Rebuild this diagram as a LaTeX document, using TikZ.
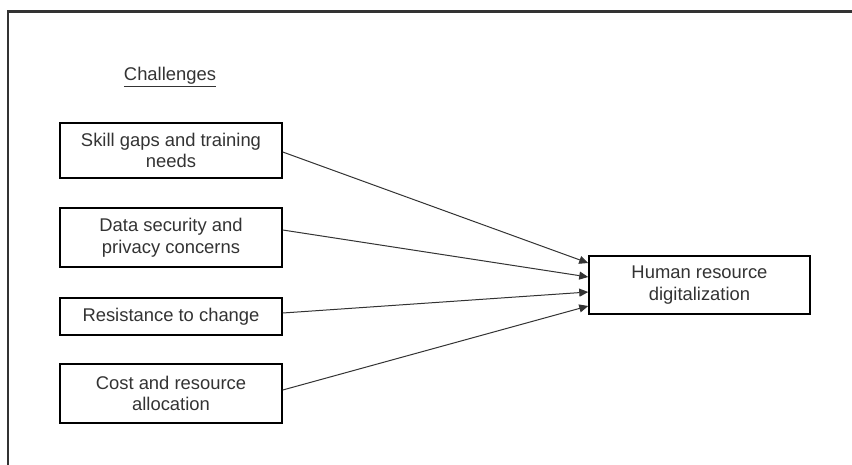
\documentclass[tikz,border=0pt]{standalone}
\usepackage{fontspec}
\setmainfont{Liberation Sans}
\usetikzlibrary{arrows.meta}
\definecolor{ink}{HTML}{333333}
\begin{document}
\begin{tikzpicture}[x=1pt,y=-1pt,
  box/.style={draw=black, line width=1.5pt, inner sep=0pt, align=center,
    text=ink, font=\fontsize{18.4}{21.5}\selectfont, minimum width=222pt},
  link/.style={draw=ink, line width=1pt, -{Triangle[length=9pt,width=8pt]}},
  frame/.style={draw=black!80, line width=2.2pt}]
  \useasboundingbox (0,0) rectangle (852,464);
  % outer frame, running off the right and bottom edges
  \draw[frame] (8,470) -- (8,11.5) -- (860,11.5);

  % heading
  \node[text=ink, font=\fontsize{18.4}{21.5}\selectfont] (title) at (170,77) {\underline{Challenges}};

  % challenge boxes
  \node[box, minimum height=55pt] (skill) at (171,150.5) {Skill gaps and training\\needs};
  \node[box, minimum height=59pt] (data) at (171,237.5) {Data security and\\privacy concerns};
  \node[box, minimum height=37pt] (resist) at (171,316.5) {Resistance to change};
  \node[box, minimum height=59pt] (cost) at (171,393.5) {Cost and resource\\allocation};

  % target box
  \node[box, minimum width=221pt, minimum height=58pt] (hrd) at (699.5,285) {Human resource\\digitalization};

  % connectors
  \draw[link] ([yshift=-1.5pt]skill.east) -- ([yshift=22pt]hrd.west);
  \draw[link] ([yshift=7.5pt]data.east) -- ([yshift=8pt]hrd.west);
  \draw[link] ([yshift=3.5pt]resist.east) -- ([yshift=-7pt]hrd.west);
  \draw[link] ([yshift=3.5pt]cost.east) -- ([yshift=-21pt]hrd.west);
\end{tikzpicture}
\end{document}
